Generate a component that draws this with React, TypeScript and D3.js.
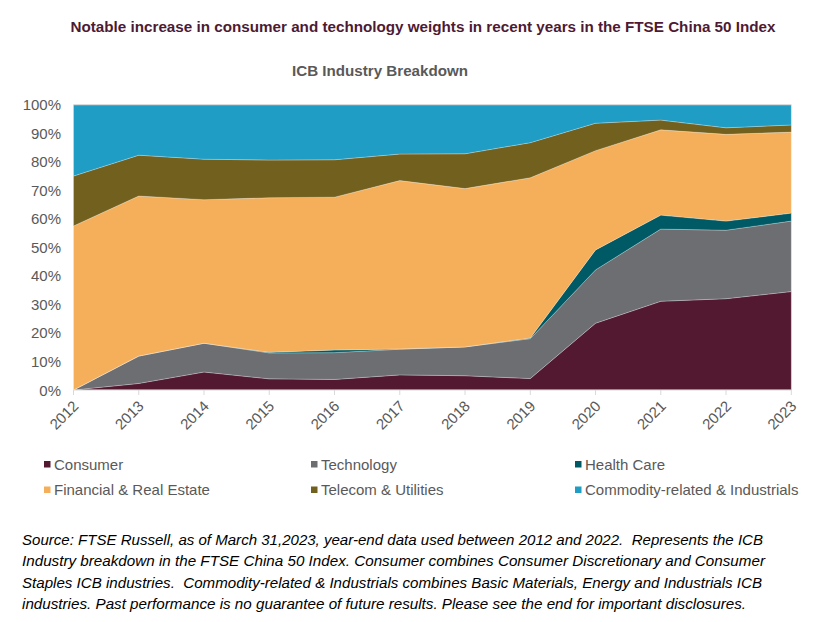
import React from "react";
import * as d3 from "d3";

const years = ["2012","2013","2014","2015","2016","2017","2018","2019","2020","2021","2022","2023"];
const seriesNames = ["Consumer","Technology","Health Care","Financial & Real Estate","Telecom & Utilities","Commodity-related & Industrials"];
const consumer = [0, 2.3, 6.3, 3.9, 3.7, 5.3, 5.0, 4.0, 23.4, 31.1, 32.0, 34.5];
const technology = [0, 9.6, 10.1, 9.1, 9.4, 9.0, 10.1, 14.0, 18.7, 25.3, 24.0, 24.7];
const healthCare = [0, 0, 0, 0.2, 0.9, 0.1, 0, 0.2, 7.0, 4.9, 3.2, 2.8];
const financial = [57.5, 56.1, 50.3, 54.2, 53.6, 59.0, 55.5, 56.2, 34.8, 29.9, 30.4, 28.4];
const telecom = [17.5, 14.3, 14.2, 13.2, 13.1, 9.3, 12.2, 12.3, 9.6, 3.4, 2.3, 2.5];
const commodity = [25.0, 17.7, 19.1, 19.4, 19.3, 17.3, 17.2, 13.3, 6.5, 5.4, 8.1, 7.1];
const yTicks = [0, 10, 20, 30, 40, 50, 60, 70, 80, 90, 100];
const colors = ["#521931", "#6D6E71", "#005A65", "#F5AF5A", "#72601F", "#1F9DC4"];

const title = "Notable increase in consumer and technology weights in recent years in the FTSE China 50 Index";
const subtitle = "ICB Industry Breakdown";
const footnote = [
  "Source: FTSE Russell, as of March 31,2023, year-end data used between 2012 and 2022.  Represents the ICB",
  "Industry breakdown in the FTSE China 50 Index. Consumer combines Consumer Discretionary and Consumer",
  "Staples ICB industries.  Commodity-related & Industrials combines Basic Materials, Energy and Industrials ICB",
  "industries. Past performance is no guarantee of future results. Please see the end for important disclosures.",
];
const footWidths = [741, 743, 740, 724];

export default function App() {
  const W = 822, H = 622;
  const x0 = 73.5, x1 = 791.3, yTop = 104.7, yBot = 390;
  const font = "'Liberation Sans', Arial, sans-serif";
  const grey = "#595959";

  const table = years.map((y, i) => {
    const vals = [consumer[i], technology[i], healthCare[i], financial[i], telecom[i], commodity[i]];
    const tot = d3.sum(vals);
    const row: any = { year: y };
    seriesNames.forEach((n, k) => (row[n] = (vals[k] / tot) * 100));
    return row;
  });
  const stacked = d3.stack<any>().keys(seriesNames)(table);
  const x = d3.scalePoint<string>().domain(years).range([x0, x1]);
  const y = d3.scaleLinear().domain([0, 100]).range([yBot, yTop]);
  const area = d3
    .area<any>()
    .x((d) => x(d.data.year) as number)
    .y0((d) => y(d[0]))
    .y1((d) => y(d[1]));

  const legendCols = [47, 314, 578];
  const legendRows = [464, 489.5];

  return (
    <svg width={W} height={H} style={{ position: "absolute", left: 0, top: 0, background: "#fff" }}>
      <rect width={W} height={H} fill="#fff" />
      <text x={423} y={32} textAnchor="middle" fontFamily={font} fontSize={14} fontWeight="bold" fill="#4E1A33" textLength={705} lengthAdjust="spacingAndGlyphs">
        {title}
      </text>
      <text x={380} y={76} textAnchor="middle" fontFamily={font} fontSize={14} fontWeight="bold" fill={grey} textLength={176} lengthAdjust="spacingAndGlyphs">
        {subtitle}
      </text>
      {stacked.map((s, k) => (
        <path key={k} d={area(s as any) || ""} fill={colors[k]} stroke="#ffffff" strokeOpacity={0.35} strokeWidth={0.7} />
      ))}
      <line x1={x0} x2={x1} y1={yTop} y2={yTop} stroke="#D9D9D9" strokeWidth={1} />
      <line x1={x0} x2={x1} y1={yBot} y2={yBot} stroke="#D9D9D9" strokeWidth={1} />
      {years.map((yr) => (
        <line key={yr} x1={x(yr)} x2={x(yr)} y1={yBot} y2={yBot + 5} stroke="#D9D9D9" />
      ))}
      {yTicks.map((t) => (
        <text key={t} x={61} y={y(t) + 5.5} textAnchor="end" fontFamily={font} fontSize={15} fill={grey}>
          {t + "%"}
        </text>
      ))}
      {years.map((yr) => (
        <text
          key={yr}
          transform={`translate(${(x(yr) as number) + 6},${yBot + 17}) rotate(-45)`}
          textAnchor="end"
          fontFamily={font}
          fontSize={15}
          fill={grey}
        >
          {yr}
        </text>
      ))}
      {seriesNames.map((n, k) => {
        const cx = legendCols[k % 3];
        const cy = legendRows[Math.floor(k / 3)];
        return (
          <g key={n}>
            <rect x={cx - 3} y={cy - 3} width={6.5} height={6.5} fill={colors[k]} />
            <text x={cx + 7} y={cy + 5.5} fontFamily={font} fontSize={15} fill={grey}>
              {n}
            </text>
          </g>
        );
      })}
      {footnote.map((l, i) => (
        <text key={i} x={22} y={545 + i * 21.3} fontFamily={font} fontSize={14} fontStyle="italic" fill="#000" textLength={footWidths[i]} lengthAdjust="spacingAndGlyphs" xmlSpace="preserve" style={{ whiteSpace: "pre" }}>
          {l}
        </text>
      ))}
    </svg>
  );
}
